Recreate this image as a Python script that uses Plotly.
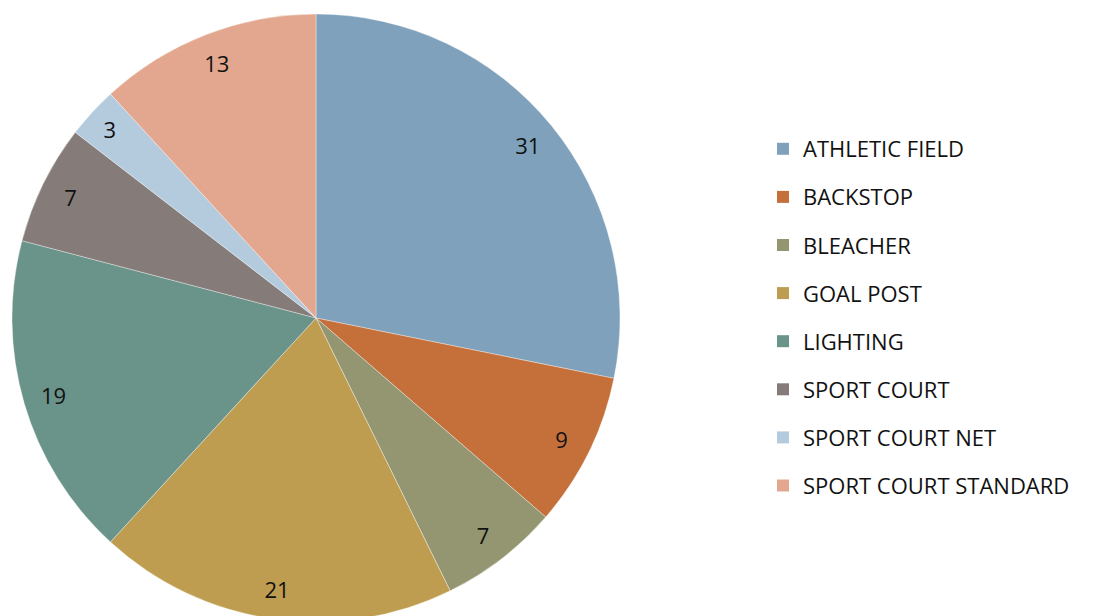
import plotly.graph_objects as go

# Datos del gráfico
categorias = ["ATHLETIC FIELD", "BACKSTOP", "BLEACHER", "GOAL POST",
              "LIGHTING", "SPORT COURT", "SPORT COURT NET", "SPORT COURT STANDARD"]
valores = [31, 9, 7, 21, 19, 7, 3, 13]
colores = ["#7FA1BB", "#C5703B", "#939670", "#BF9D50",
           "#6A9389", "#857B79", "#B4CBDE", "#E3A78F"]

FUENTE = "Open Sans"
# la página añade 8px de margen al body: el dominio se corrige con eso
DOMINIO = dict(x=[4 / 1093, 612 / 1093], y=[1 - 614 / 616, 1 - 6 / 616])

fig = go.Figure()

# Torta principal (sin texto)
fig.add_trace(go.Pie(
    labels=categorias,
    values=valores,
    sort=False,
    direction="clockwise",
    rotation=0,
    marker=dict(colors=colores, line=dict(color="rgba(255,255,255,0.6)", width=0.6)),
    textinfo="none",
    domain=DOMINIO,
    showlegend=False,
))

# Anillo transparente encima: solo para colocar las etiquetas cerca del borde
fig.add_trace(go.Pie(
    labels=categorias,
    values=valores,
    sort=False,
    direction="clockwise",
    rotation=0,
    hole=0.8,
    marker=dict(colors=["rgba(0,0,0,0)"] * len(valores), line=dict(width=0)),
    textinfo="value",
    textposition="inside",
    insidetextorientation="horizontal",
    textfont=dict(family=FUENTE, size=22, color="#111111"),
    hoverinfo="skip",
    domain=DOMINIO,
    showlegend=False,
))

# Leyenda con espaciado propio (una entrada por grupo)
for nombre, color in zip(categorias, colores):
    fig.add_trace(go.Scatter(
        x=[None], y=[None],
        mode="markers",
        name=nombre,
        legendgroup=nombre,
        marker=dict(symbol="square", size=12, color=color),
        showlegend=True,
    ))

fig.update_layout(
    width=1093,
    height=616,
    margin=dict(l=0, r=0, t=0, b=0),
    paper_bgcolor="white",
    plot_bgcolor="white",
    xaxis=dict(visible=False),
    yaxis=dict(visible=False),
    legend=dict(
        x=755 / 1093, xanchor="left",
        y=1 - 309.5 / 616, yanchor="middle",
        font=dict(family=FUENTE, size=22, color="#111111"),
        tracegroupgap=16.5,
        itemsizing="trace",
        bgcolor="rgba(0,0,0,0)",
    ),
)

fig.write_html("out.html")
